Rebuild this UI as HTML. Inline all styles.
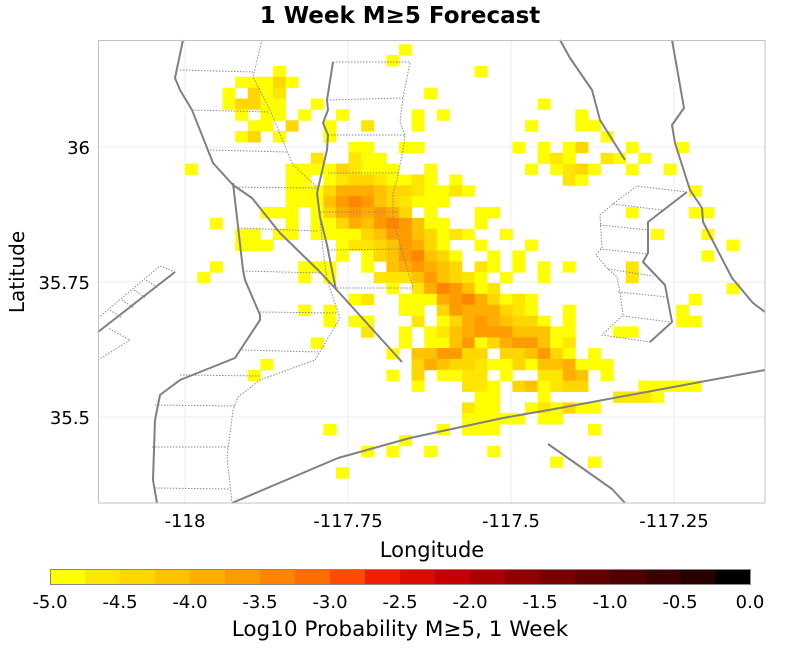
<!DOCTYPE html>
<html><head><meta charset="utf-8"><style>
html,body{margin:0;padding:0;background:#fff;}
svg text{font-family:"DejaVu Sans","Liberation Sans",sans-serif;fill:#000;}
</style></head><body>
<svg id="s" width="800" height="649" xmlns="http://www.w3.org/2000/svg">
<rect x="0" y="0" width="800" height="649" fill="#fff"/>
<text x="400" y="23" font-size="23" font-weight="bold" text-anchor="middle">1 Week M≥5 Forecast</text>
<g stroke="#eeeeee" stroke-width="1">
<line x1="185" y1="40" x2="185" y2="503"/><line x1="348" y1="40" x2="348" y2="503"/>
<line x1="511" y1="40" x2="511" y2="503"/><line x1="674" y1="40" x2="674" y2="503"/>
<line x1="98" y1="147" x2="765" y2="147"/><line x1="98" y1="282" x2="765" y2="282"/><line x1="98" y1="417" x2="765" y2="417"/>
</g>
<g id="cells"></g>
<g fill="none" stroke="#8a8a8a" stroke-width="1" stroke-dasharray="1.5,1.5">
<polyline points="262,40 253,77 270,110 293,165 317,187 323,250 327,280 340,318 315,360 260,380 238,397 233,410 227,457 232,503"/>
<line x1="180" y1="70" x2="253" y2="72"/><line x1="192" y1="110" x2="270" y2="112"/>
<line x1="210" y1="150" x2="287" y2="152"/><line x1="233" y1="187" x2="317" y2="188"/>
<line x1="238" y1="228" x2="318" y2="231"/><line x1="243" y1="271" x2="322" y2="273"/>
<line x1="260" y1="312" x2="337" y2="313"/><line x1="242" y1="350" x2="320" y2="352"/>
<line x1="180" y1="375" x2="260" y2="376"/><line x1="155" y1="405" x2="235" y2="406"/>
<line x1="152" y1="447" x2="228" y2="447"/><line x1="155" y1="488" x2="230" y2="489"/>
<polyline points="333,62 410,62 403,98 400,122 405,135 403,150 397,180 393,193 393,220 413,288"/>
<line x1="327" y1="100" x2="403" y2="98"/><line x1="328" y1="135" x2="405" y2="135"/>
<line x1="328" y1="173" x2="398" y2="173"/><line x1="320" y1="212" x2="397" y2="212"/>
<line x1="328" y1="250" x2="403" y2="249"/><line x1="337" y1="288" x2="413" y2="288"/>
<polyline points="687,192 637,186 613,204 600,215 602,248 596,255 608,269 617,277 620,292 623,315 602,335 650,342"/>
<line x1="613" y1="204" x2="662" y2="210"/><line x1="600" y1="225" x2="648" y2="230"/>
<line x1="600" y1="249" x2="648" y2="254"/><line x1="608" y1="269" x2="653" y2="276"/>
<line x1="618" y1="292" x2="667" y2="297"/><line x1="623" y1="316" x2="670" y2="322"/>
<polyline points="98,318 160,266 175,272"/><polyline points="98,360 130,340 108,328"/>
<line x1="110" y1="310" x2="122" y2="318"/><line x1="122" y1="300" x2="134" y2="308"/><line x1="134" y1="290" x2="146" y2="298"/><line x1="146" y1="280" x2="158" y2="288"/>
</g>
<g fill="none" stroke="#808080" stroke-width="2" stroke-linejoin="round">
<polyline points="183,40 175,78 180,90 192,110 213,163 233,185 252,198 280,233 318,270 335,288 402,362"/>
<polyline points="233,183 243,270 245,280 260,315 260,320 235,358 180,380 160,395 155,420 153,480 157,503"/>
<polyline points="333,62 327,100 328,110 323,123 328,135 327,150 317,193 320,217 327,245 336,290"/>
<polyline points="560,40 570,58 592,90 600,120 625,160"/>
<polyline points="672,40 684,108 672,125 675,143 690,190 702,208 703,222 732,278 753,303 765,312"/>
<polyline points="687,192 648,222 648,253 643,262 665,285 672,322 650,342"/>
<polyline points="232,503 338,458 410,438 503,418 560,408 765,370"/>
<polyline points="548,444 612,489 625,503"/>
<line x1="98" y1="332" x2="175" y2="272"/>
</g>
<rect x="98.5" y="40.5" width="666.5" height="462.5" fill="none" stroke="#c0c0c0" stroke-width="1"/>
<g font-size="18">
<text x="90" y="154" text-anchor="end">36</text>
<text x="90" y="289" text-anchor="end">35.75</text>
<text x="90" y="424" text-anchor="end">35.5</text>
<text x="185" y="527" text-anchor="middle">-118</text>
<text x="348" y="527" text-anchor="middle">-117.75</text>
<text x="511" y="527" text-anchor="middle">-117.5</text>
<text x="674" y="527" text-anchor="middle">-117.25</text>
</g>
<text x="432" y="557" font-size="21" text-anchor="middle">Longitude</text>
<text transform="translate(24,272) rotate(-90)" font-size="20" text-anchor="middle">Latitude</text>
<g id="cbar"></g>
<rect x="50.5" y="569.5" width="700" height="15" fill="none" stroke="#888" stroke-width="1"/>
<g font-size="18" text-anchor="middle">
<text x="50" y="608">-5.0</text><text x="120" y="608">-4.5</text><text x="190" y="608">-4.0</text>
<text x="260" y="608">-3.5</text><text x="330" y="608">-3.0</text><text x="400" y="608">-2.5</text>
<text x="470" y="608">-2.0</text><text x="540" y="608">-1.5</text><text x="610" y="608">-1.0</text>
<text x="680" y="608">-0.5</text><text x="750" y="608">0.0</text>
</g>
<text x="400" y="636" font-size="21.5" text-anchor="middle">Log10 Probability M≥5, 1 Week</text>
</svg>
<script>
var NS="http://www.w3.org/2000/svg";
var cols=["#ffff00","#ffe600","#ffd700","#ffc200","#ffae00","#ff9a00","#ff8400","#ff6c00","#ff4a00","#f21e00","#dd0a00","#c40000","#aa0000","#900000","#780000","#620000","#500000","#3c0000","#280000","#000000"];
var cb=document.getElementById("cbar");
for(var i=0;i<20;i++){var r=document.createElementNS(NS,"rect");r.setAttribute("x",50+35*i);r.setAttribute("y",569);r.setAttribute("width",35.5);r.setAttribute("height",16);r.setAttribute("fill",cols[i]);cb.appendChild(r);}
var D={
0:"24:1",1:"23:1",2:"14:1,30:1",3:"11:1,12:1,13:1,14:3,15:1",4:"10:1,12:3,13:1,14:2,26:1",
5:"10:1,11:3,12:3,13:1,14:1,17:1,35:1",6:"11:1,13:1,14:1,16:1,19:1,25:1,27:1,38:1",
7:"12:1,13:1,15:3,18:1,21:2,25:1,34:1,38:1,39:1",8:"11:1,12:3,14:1,18:1,40:1",
9:"20:1,21:1,24:1,25:1,33:1,35:1,37:1,38:3,42:1,46:1",
10:"17:2,20:2,21:1,22:1,35:1,36:2,37:1,40:2,41:1,43:1",
11:"7:1,15:1,16:1,17:1,18:1,19:3,20:2,21:1,22:1,23:1,26:1,34:1,36:1,37:2,38:3,39:1,42:1,45:1",
12:"15:1,16:1,18:1,19:2,20:3,21:3,22:2,23:1,24:1,25:2,26:1,28:1,37:2,38:1",
13:"15:1,16:1,17:1,18:3,19:5,20:5,21:5,22:4,23:3,24:3,25:2,26:1,27:1,28:2,29:1,47:1",
14:"15:1,16:1,17:1,18:4,19:6,20:7,21:6,22:4,23:3,24:2,25:1,26:1,27:1",
15:"13:1,14:1,15:1,17:1,18:3,19:5,20:6,21:5,22:6,23:5,24:3,26:1,30:1,31:1,42:1,47:1,48:1",
16:"9:1,15:1,17:1,18:1,19:3,20:5,21:4,22:6,23:7,24:6,25:4,26:1,27:1,30:1",
17:"11:1,12:1,14:1,15:1,17:1,18:1,19:1,20:1,21:3,22:4,23:6,24:6,25:4,26:3,27:1,28:2,29:1,32:1,44:1,48:1",
18:"11:1,12:1,13:1,19:1,20:2,21:2,22:3,23:4,24:6,25:5,26:3,27:1,30:1,34:1,50:1",
19:"19:1,21:1,22:3,23:4,24:6,25:7,26:4,27:3,28:1,31:1,33:1,48:1",
20:"9:1,16:1,17:1,18:1,21:1,23:4,24:5,25:6,26:5,27:4,28:3,30:2,31:1,33:1,35:1,37:1,42:2",
21:"8:1,16:1,18:1,22:2,23:2,24:2,25:4,26:6,27:4,28:3,29:2,30:1,32:1,35:1,42:2",
22:"23:1,25:2,26:5,27:7,28:6,29:4,30:1,31:2,50:1",
23:"20:1,21:2,24:1,25:1,26:1,27:5,28:6,29:7,30:5,31:3,32:1,33:2,34:1,47:1",
24:"16:1,18:1,24:1,25:1,27:3,28:6,29:5,30:5,31:5,32:3,33:2,34:1,37:1,46:1",
25:"18:1,20:1,21:1,25:2,27:1,28:3,29:5,30:6,31:5,32:4,33:3,34:3,35:1,37:1,46:1,47:1",
26:"21:2,24:1,26:1,27:2,28:4,29:5,30:6,31:6,32:6,33:4,34:4,35:4,36:1,37:1,41:1,42:1",
27:"17:1,24:1,26:1,27:1,28:4,29:6,30:1,31:3,32:5,33:6,34:6,35:4,36:1,37:2",
28:"23:1,25:4,26:4,27:6,28:6,29:3,30:3,32:3,33:3,34:4,35:6,36:3,37:1,39:1",
29:"13:1,25:3,26:5,27:4,28:3,29:3,30:2,31:1,32:1,33:3,34:1,35:4,36:4,37:5,38:1,39:1,40:1",
30:"12:1,23:1,25:3,27:1,28:1,29:2,30:2,32:1,35:2,36:2,37:5,38:4,40:1",
31:"25:1,29:2,30:2,31:1,33:3,34:4,35:1,36:2,37:3,38:3,43:1,44:1,45:1,46:1,47:1",
32:"30:1,31:1,35:1,41:2,42:2,43:2,44:1",
33:"29:2,30:1,31:1,34:1,35:2,36:1,37:3,38:1,39:1",
34:"29:1,30:1,31:1,32:1,33:1,35:1,36:1",
35:"18:1,27:1,29:1,30:1,31:1,39:1",
36:"24:1",37:"21:1,23:1,26:1,31:1",38:"36:1,39:1",39:"19:1"};
var g=document.getElementById("cells");
for(var r in D){D[r].split(",").forEach(function(p){var a=p.split(":");var k=+a[0],l=+a[1];
var x=96.6+12.6*k,y=44.3+10.85*r;var w=12.6,h=10.85;
if(x<98.5){w-=98.5-x;x=98.5;}
var e=document.createElementNS(NS,"rect");e.setAttribute("x",x.toFixed(1));e.setAttribute("y",y.toFixed(1));
e.setAttribute("width",(w+0.4).toFixed(1));e.setAttribute("height",(h+0.4).toFixed(1));e.setAttribute("fill",cols[l-1]);g.appendChild(e);});}
</script>
</body></html>
